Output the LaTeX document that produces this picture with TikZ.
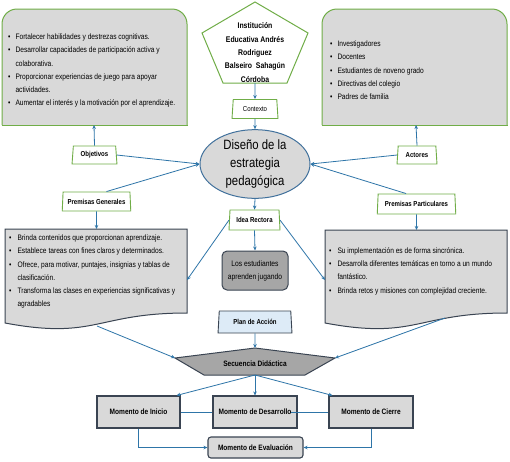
\documentclass[tikz,border=0pt]{standalone}
\usepackage{fontspec}
\setmainfont{Liberation Sans}[FakeStretch=0.84]
\usetikzlibrary{shapes.geometric,arrows.meta,positioning}

\definecolor{verdeborde}{HTML}{70AD47}
\definecolor{grisclaro}{HTML}{D9D9D9}
\definecolor{grisoscuro}{HTML}{A6A6A6}
\definecolor{azullinea}{HTML}{2E75A8}
\definecolor{azulborde}{HTML}{41719C}
\definecolor{bordeoscuro}{HTML}{3A4452}
\definecolor{azulclaro}{HTML}{DDEBF7}

\newcommand{\letralista}{\fontsize{7.9}{13.3}\selectfont}

\tikzset{
  etiqueta/.style={trapezium, trapezium angle=84, trapezium stretches=true,
    draw=verdeborde, line width=0.9pt, fill=white, inner sep=1pt,
    font=\fontsize{7.2}{8}\selectfont\bfseries, minimum height=18pt},
  flecha/.style={draw=azullinea, line width=0.8pt, -{Stealth[length=4pt,width=3.5pt]}},
  linea/.style={draw=azullinea, line width=0.8pt},
  momento/.style={rectangle, draw=bordeoscuro, line width=1.1pt, fill=grisclaro,
    font=\fontsize{7.8}{8}\selectfont\bfseries, minimum width=84pt, minimum height=32pt},
  lista/.style={anchor=west, inner sep=0pt, align=left, font=\letralista},
}

\begin{document}
\begin{tikzpicture}[x=1pt,y=-1pt]
  \fill[white] (0,0) rectangle (510,461);

  % Cajas superiores
  \path[fill=grisclaro, draw=verdeborde, line width=1pt, rounded corners=15pt]
    (2,125) -- (2,9) -- (187,9) -- (187,125);
  \draw[verdeborde, line width=1pt, line cap=rect] (2,125) -- (187,125);
  \path[fill=grisclaro, draw=verdeborde, line width=1pt, rounded corners=15pt]
    (322,125) -- (322,9) -- (507,9) -- (507,125);
  \draw[verdeborde, line width=1pt, line cap=rect] (322,125) -- (507,125);
  \coordinate (objbase) at (94,125);
  \coordinate (actbase) at (416,125);

  \node[lista] (objlista) at (8,70) {\begin{tabular}{@{}l@{\hspace{5pt}}l@{}}
    \textbullet & Fortalecer habilidades y destrezas cognitivas.\\
    \textbullet & Desarrollar capacidades de participación activa y\\
                & colaborativa.\\
    \textbullet & Proporcionar experiencias de juego para apoyar\\
                & actividades.\\
    \textbullet & Aumentar el interés y la motivación por el aprendizaje.
  \end{tabular}};
  \node[lista] (actlista) at (330,70.5) {\begin{tabular}{@{}l@{\hspace{5pt}}l@{}}
    \textbullet & Investigadores\\
    \textbullet & Docentes\\
    \textbullet & Estudiantes de noveno grado\\
    \textbullet & Directivas del colegio\\
    \textbullet & Padres de familia
  \end{tabular}};

  % Institucion (pentagono)
  \filldraw[fill=white, draw=verdeborde, line width=1pt]
    (255,2) -- (308,33) -- (287,83) -- (223,83) -- (202,33) -- cycle;
  \coordinate (instbase) at (255,83);
  \node[align=center, font=\fontsize{8.2}{13.3}\selectfont\bfseries] (institucion) at (255,52.5)
    {Institución\\Educativa Andrés\\Rodriguez\\Balseiro\ \ Sahagún\\Córdoba};

  % Nodos centrales
  \node[etiqueta, font=\fontsize{7.2}{8}\selectfont, minimum width=46pt, minimum height=19pt] (contexto) at (255,109) {Contexto};
  \node[ellipse, draw=azulborde, line width=1pt, fill=grisclaro, minimum width=110pt, minimum height=66pt,
        inner sep=0pt, align=center, font=\fontsize{13.5}{18}\selectfont] (diseno) at (255,164)
    {Diseño de la\\estrategia\\pedagógica};
  \node[etiqueta, minimum width=45pt] (objetivos) at (94.5,155) {Objetivos};
  \node[etiqueta, minimum width=40pt] (actores) at (417,155) {Actores};
  \node[etiqueta, minimum width=69pt, minimum height=19pt] (premgen) at (96.5,201.5) {Premisas Generales};
  \node[etiqueta, minimum width=79pt, minimum height=20pt] (prempart) at (416.5,204) {Premisas Particulares};
  \node[etiqueta, minimum width=51pt, minimum height=20pt] (idea) at (254.5,220) {Idea Rectora};
  \node[rectangle, rounded corners=5pt, draw=bordeoscuro, line width=1pt, fill=grisoscuro,
        minimum width=66pt, minimum height=39pt, align=center, font=\fontsize{8}{13}\selectfont] (estudiantes) at (255,270.5)
    {Los estudiantes\\aprenden jugando};

  % Documentos de premisas
  \filldraw[fill=grisclaro, draw=bordeoscuro, line width=1pt]
    (5,229) -- (187,229) -- (187,313) .. controls (96,313) and (96,340) .. (5,323) -- cycle;
  \filldraw[fill=grisclaro, draw=bordeoscuro, line width=1pt]
    (325,230) -- (507,230) -- (507,313) .. controls (416,313) and (416,340) .. (325,323) -- cycle;
  \coordinate (gentope) at (96.5,229);
  \coordinate (parttope) at (416.5,230);
  \coordinate (genlado) at (187,280);
  \coordinate (partlado) at (325,280);
  \coordinate (genbase) at (97,326);
  \coordinate (partbase) at (445,318);

  \node[lista] (genlista) at (9,271) {\begin{tabular}{@{}l@{\hspace{6pt}}l@{}}
    \textbullet & Brinda contenidos que proporcionan aprendizaje.\\
    \textbullet & Establece tareas con fines claros y determinados.\\
    \textbullet & Ofrece, para motivar, puntajes, insignias y tablas de\\
                & clasificación.\\
    \textbullet & Transforma las clases en experiencias significativas y\\
                & agradables
  \end{tabular}};
  \node[lista] (partlista) at (329,270.5) {\begin{tabular}{@{}l@{\hspace{6pt}}l@{}}
    \textbullet & Su implementación es de forma sincrónica.\\
    \textbullet & Desarrolla diferentes temáticas en torno a un mundo\\
                & fantástico.\\
    \textbullet & Brinda retos y misiones con complejidad creciente.
  \end{tabular}};

  % Plan de accion y secuencia
  \node[etiqueta, draw=bordeoscuro, fill=azulclaro, minimum width=74pt, minimum height=22pt] (plan) at (255,322) {Plan de Acción};
  \filldraw[fill=grisoscuro, draw=bordeoscuro, line width=1pt]
    (175,358) -- (255,348) -- (335,358) -- (305,375) -- (204,375) -- cycle;
  \coordinate (secizq) at (175,358);
  \coordinate (secder) at (335,358);
  \coordinate (sectope) at (255,348);
  \coordinate (secbase) at (255,375);
  \node[font=\fontsize{7.8}{8}\selectfont\bfseries] (secuencia) at (255,364) {Secuencia Didáctica};

  % Momentos
  \node[momento, minimum width=83pt] (inicio) at (138.5,412) {Momento de Inicio};
  \node[momento] (desarrollo) at (255,412) {Momento de Desarrollo};
  \node[momento] (cierre) at (371,412) {Momento de Cierre};
  \node[momento, rounded corners=3pt, minimum width=95pt, minimum height=21pt] (evaluacion) at (255.5,447.5) {Momento de Evaluación};

  % Conectores
  \draw[flecha] (instbase) -- (contexto.north);
  \draw[flecha] (contexto.south) -- (diseno.north);
  \draw[flecha] (objetivos.north) -- (objbase);
  \draw[flecha] (actores.north) -- (actbase);
  \draw[flecha] (objetivos.east) -- (diseno.west);
  \draw[flecha] (premgen.north east) -- (diseno.west);
  \draw[flecha] (actores.west) -- (diseno.east);
  \draw[flecha] (prempart.north west) -- (diseno.east);
  \draw[flecha] (premgen.south) -- (gentope);
  \draw[flecha] (prempart.south) -- (parttope);
  \draw[flecha] (diseno.south) -- (idea.north);
  \draw[flecha] (idea.south) -- (estudiantes.north);
  \draw[flecha] (idea.west) -- (genlado);
  \draw[flecha] (idea.east) -- (partlado);
  \draw[flecha] (genbase) -- (secizq);
  \draw[flecha] (partbase) -- (secder);
  \draw[flecha] (plan.south) -- (sectope);
  \draw[flecha] (secbase) -- ([xshift=-4pt]inicio.north east);
  \draw[flecha] (secbase) -- (desarrollo.north);
  \draw[flecha] (secbase) -- ([xshift=4pt]cierre.north west);
  \draw[linea] (inicio.east) -- (desarrollo.west);
  \draw[linea, shorten <=-7pt] (desarrollo.east) -- (cierre.west);
  \draw[flecha] (inicio.south) |- (evaluacion.west);
  \draw[flecha] (cierre.south) |- (evaluacion.east);
\end{tikzpicture}
\end{document}
